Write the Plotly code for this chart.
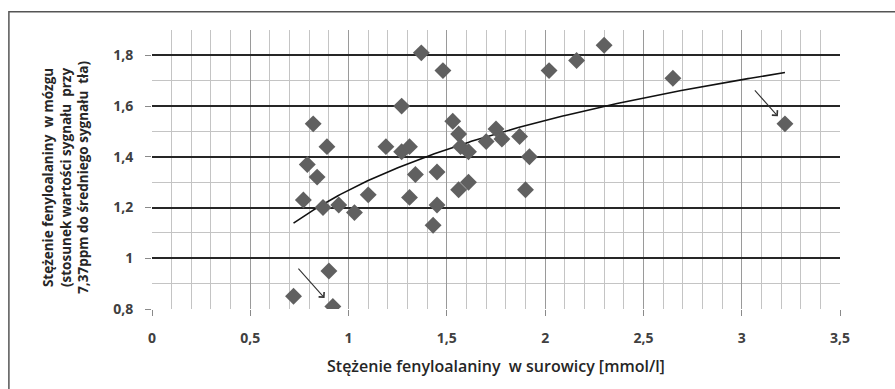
import numpy as np
import plotly.graph_objects as go

# Data
serum_phe = [0.72, 0.77, 0.79, 0.82, 0.84, 0.87, 0.89, 0.90, 0.92, 0.95,
             1.03, 1.10, 1.19, 1.27, 1.27, 1.31, 1.31, 1.34, 1.37, 1.43,
             1.45, 1.45, 1.48, 1.53, 1.56, 1.57, 1.56, 1.61, 1.61, 1.70,
             1.75, 1.78, 1.87, 1.92, 1.90, 2.02, 2.16, 2.30, 2.65, 3.22]
brain_phe = [0.85, 1.23, 1.37, 1.53, 1.32, 1.20, 1.44, 0.95, 0.81, 1.21,
             1.18, 1.25, 1.44, 1.60, 1.42, 1.44, 1.24, 1.33, 1.81, 1.13,
             1.34, 1.21, 1.74, 1.54, 1.49, 1.44, 1.27, 1.42, 1.30, 1.46,
             1.51, 1.47, 1.48, 1.40, 1.27, 1.74, 1.78, 1.84, 1.71, 1.53]

x_ticks = [0, 0.5, 1, 1.5, 2, 2.5, 3, 3.5]
x_tick_labels = ["0", "0,5", "1", "1,5", "2", "2,5", "3", "3,5"]
y_ticks = [0.8, 1.0, 1.2, 1.4, 1.6, 1.8]
y_tick_labels = ["0,8", "1", "1,2", "1,4", "1,6", "1,8"]

# Arrows (tail x, tail y, head x, head y)
arrow_tail_x = [0.738, 3.060]
arrow_tail_y = [0.965, 1.668]
arrow_head_x = [0.878, 3.184]
arrow_head_y = [0.843, 1.560]

x_title = "Stężenie fenyloalaniny  w surowicy [mmol/l]"
y_title = ("Stężenie fenyloalaniny  w mózgu<br>"
           "(stosunek wartości sygnału  przy<br>"
           "7,37ppm do średniego sygnału  tła)")

# Logarithmic trend line fitted to the data
xs = np.array(serum_phe)
ys = np.array(brain_phe)
a, b = np.polyfit(np.log(xs), ys, 1)
trend_x = np.linspace(xs.min(), xs.max(), 200)
trend_y = a * np.log(trend_x) + b

fig = go.Figure()
fig.add_trace(go.Scatter(
    x=trend_x, y=trend_y, mode="lines",
    line=dict(color="#111111", width=1.6),
    hoverinfo="skip", showlegend=False))
fig.add_trace(go.Scatter(
    x=serum_phe, y=brain_phe, mode="markers",
    marker=dict(symbol="diamond", size=13, color="#606060",
                line=dict(width=0)),
    showlegend=False))

for tx, ty, hx, hy in zip(arrow_tail_x, arrow_tail_y, arrow_head_x, arrow_head_y):
    fig.add_annotation(x=hx, y=hy, ax=tx, ay=ty, xref="x", yref="y",
                       axref="x", ayref="y", text="", showarrow=True,
                       arrowhead=4, arrowsize=1.3, arrowwidth=1.1,
                       arrowcolor="#333333")

tick_font = dict(family="Open Sans", size=14, color="#404040", weight="bold")

fig.update_xaxes(
    range=[0, 3.5], tickvals=x_ticks, ticktext=x_tick_labels,
    showgrid=True, gridcolor="#9a9a9a", gridwidth=1,
    minor=dict(dtick=0.1, showgrid=True, gridcolor="#c4c4c4", gridwidth=1),
    ticks="outside", ticklen=6, tickcolor="#8a8a8a", tickwidth=1,
    tickfont=tick_font, ticklabelstandoff=10,
    zeroline=False, showline=False)
fig.update_yaxes(
    range=[0.8, 1.9], tickvals=y_ticks, ticktext=y_tick_labels,
    showgrid=True, gridcolor="#262626", gridwidth=1.5,
    minor=dict(dtick=0.1, showgrid=True, gridcolor="#c4c4c4", gridwidth=1),
    ticks="outside", ticklen=6, tickcolor="#8a8a8a", tickwidth=1,
    tickfont=tick_font, ticklabelstandoff=9,
    zeroline=False, showline=False)

# Axis titles
fig.add_annotation(text=x_title, xref="paper", yref="paper",
                   x=0.5, y=-0.205, xanchor="center", yanchor="middle",
                   showarrow=False,
                   font=dict(family="Open Sans", size=16, color="#262626",
                             weight=600))
fig.add_annotation(text=y_title, xref="paper", yref="paper",
                   x=-0.125, y=0.47, xanchor="center", yanchor="middle",
                   textangle=-90, showarrow=False, align="center",
                   font=dict(family="Open Sans", size=13.5, color="#262626",
                             weight="bold"))

# Chart-area border (left and top visible, right/bottom run off the page)
fig.add_shape(type="rect", xref="paper", yref="paper",
              x0=-0.208, x1=1.2, y0=-0.5, y1=1.0655,
              line=dict(color="#555555", width=1.5), fillcolor="rgba(0,0,0,0)",
              layer="below")

fig.update_layout(
    width=895, height=389,
    margin=dict(l=152, r=55, t=30, b=80),
    paper_bgcolor="white", plot_bgcolor="white",
    showlegend=False)

fig.write_html("out.html")
